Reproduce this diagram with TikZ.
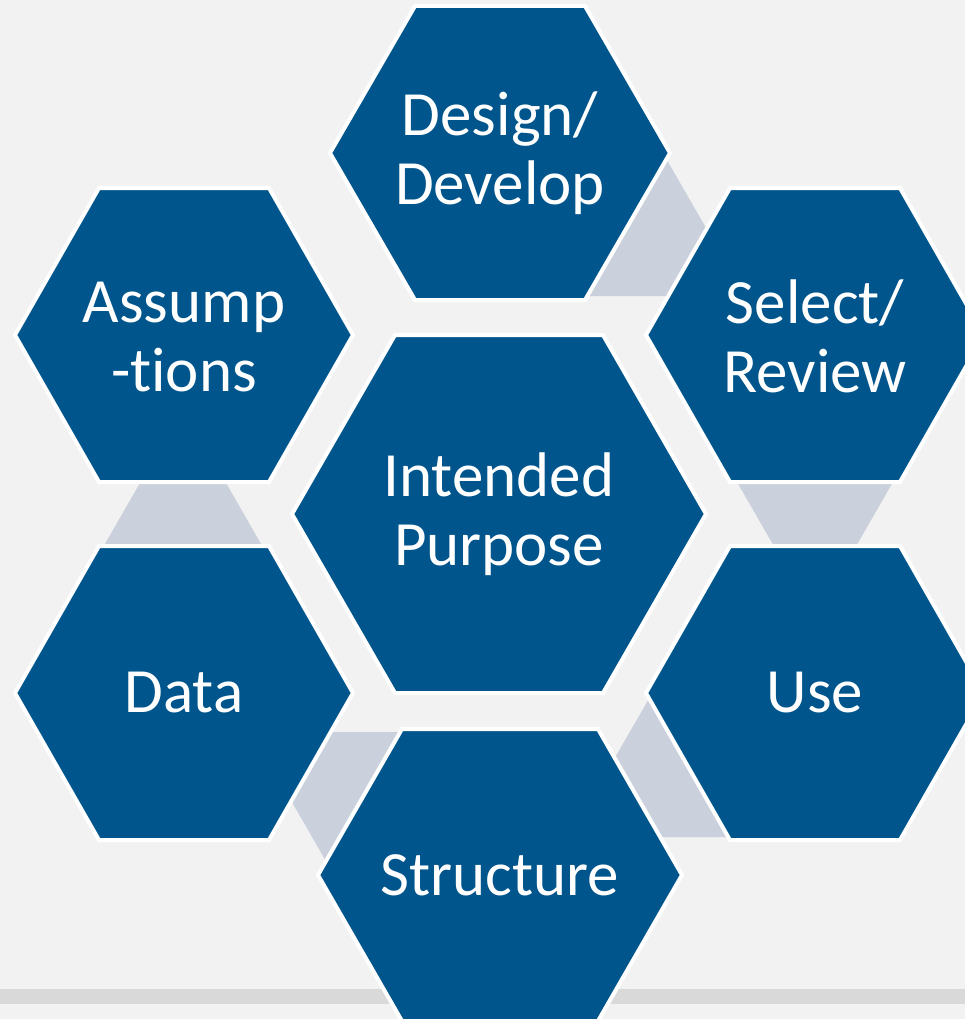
\documentclass[tikz,border=0pt]{standalone}
\usepackage{fontspec}
\setmainfont{Carlito}[Ligatures=NoCommon]

\definecolor{hexblue}{HTML}{00558C}
\definecolor{linkgray}{HTML}{CBD1DC}
\definecolor{backgray}{HTML}{F2F2F2}
\definecolor{bandgray}{HTML}{D9D9D9}

\begin{document}
\begin{tikzpicture}[x=1pt,y=-1pt,
    hexcell/.style={fill=hexblue,draw=white,line width=4pt,line join=miter},
    link/.style={fill=linkgray},
    celltext/.style={text=white,align=center,font=\fontsize{63}{69}\selectfont}]

            \useasboundingbox (0,0) rectangle (965,1019);
            \clip (0,0) rectangle (965,1019);

            \fill[backgray] (0,0) rectangle (965,1019);
            \fill[bandgray] (0,989) rectangle (965,1004);

            % links between the outer cells (only the free part shows)

            \fill[link] (660,148) -- (713,240) -- (690,296) -- (570,296) -- cycle;
            \fill[link] (733,475) -- (897,475) -- (851,555) -- (779,555) -- cycle;
            \fill[link] (654,690) -- (602,780) -- (640,837) -- (745,837) -- cycle;
            \fill[link] (310,732) -- (420,732) -- (331,870) -- (285,790) -- cycle;
            \fill[link] (144,476) -- (222,476) -- (268,556) -- (98,556) -- cycle;

            % outer cells

            \draw[hexcell] (330,153) -- (415,6) -- (585,6) -- (670,153) -- (585,300) -- (415,300) -- cycle;
            \draw[hexcell] (646,335) -- (730,188) -- (900,188) -- (984,335) -- (900,482) -- (730,482) -- cycle;
            \draw[hexcell] (646,693) -- (730,546) -- (900,546) -- (984,693) -- (900,840) -- (730,840) -- cycle;
            \draw[hexcell] (318,875) -- (402,729) -- (598,729) -- (682,875) -- (598,1021) -- (402,1021) -- cycle;
            \draw[hexcell] (15,693) -- (99,546) -- (269,546) -- (353,693) -- (269,840) -- (99,840) -- cycle;
            \draw[hexcell] (15,335) -- (99,188) -- (269,188) -- (353,335) -- (269,482) -- (99,482) -- cycle;

            % centre cell
            \draw[hexcell] (292,514) -- (395,335) -- (603,335) -- (706,514) -- (603,693) -- (395,693) -- cycle;

            % cell labels
            \node (purpose) [celltext] at (499,514) {Intended\\Purpose};
            \node (design) [celltext] at (500,153) {Design/\\Develop};
            \node (select) [celltext] at (815,336) {Select/\\Review};
            \node (use) [celltext] at (815,693) {Use};
            \node (structure) [celltext] at (500,875) {Structure};
            \node (data) [celltext] at (184,693) {Data};
            \node (assump) [celltext] at (184,337) {Assump\\-tions};

\end{tikzpicture}
\end{document}
